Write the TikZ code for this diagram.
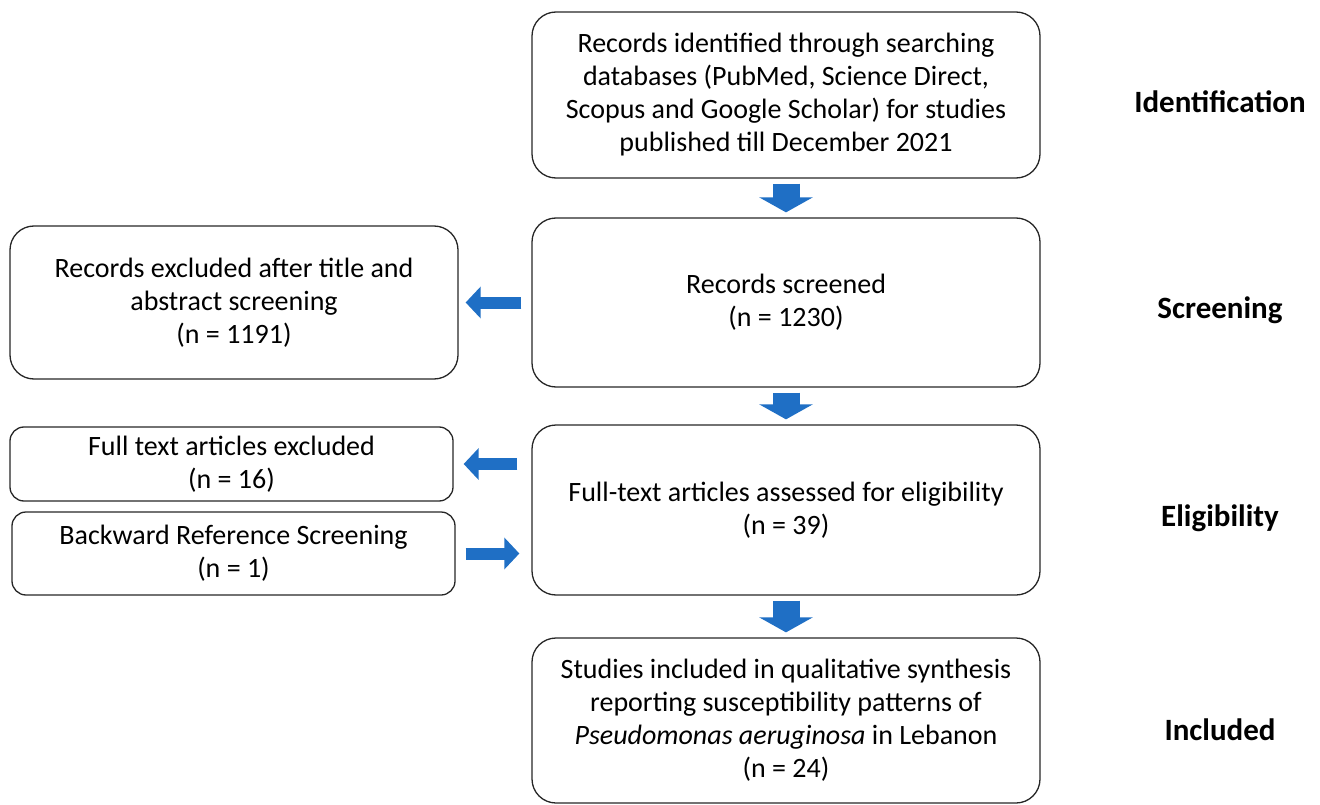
\documentclass[tikz,border=0pt]{standalone}
\usepackage{fontspec}
\setmainfont{Carlito}
\usetikzlibrary{arrows.meta}

\definecolor{arrblue}{HTML}{1F6FC5}

\tikzset{
  box/.style={draw=black!85, line width=1.3pt, rounded corners=24pt, align=center,
    font=\fontsize{28}{33}\selectfont, inner sep=0pt},
  smallbox/.style={box, rounded corners=14pt},
  phase/.style={font=\bfseries\fontsize{31}{34}\selectfont},
  downarr/.style={draw=arrblue, line width=27pt,
    -{Triangle[length=15pt,width=53pt]}, shorten <=5pt, shorten >=5pt},
  sidearr/.style={draw=arrblue, line width=12pt,
    -{Triangle[length=15pt,width=31pt]}}
}

\begin{document}
\begin{tikzpicture}[x=1pt,y=-1pt]
\useasboundingbox (0,0) rectangle (1320,805);
% main column
\node[box, minimum width=508pt, minimum height=166pt] (ident) at (786,95)
  {Records identified through searching\\databases (PubMed, Science Direct,\\Scopus and Google Scholar) for studies\\published till December 2021};
\node[box, minimum width=508pt, minimum height=169pt] (screen) at (786,302.5)
  {Records screened\\(n = 1230)};
\node[box, minimum width=508pt, minimum height=170pt] (assess) at (786,510)
  {Full-text articles assessed for eligibility\\(n = 39)};
\node[box, minimum width=508pt, minimum height=165pt] (incl) at (786,720.5)
  {Studies included in qualitative synthesis\\reporting susceptibility patterns of\\\textit{Pseudomonas aeruginosa} in Lebanon\\(n = 24)};
% side boxes
\node[box, minimum width=448pt, minimum height=153pt] (excl) at (234,302.5)
  {Records excluded after title and\\abstract screening\\(n = 1191)};
\node[smallbox, minimum width=443pt, minimum height=74pt] (ftex) at (231.5,464)
  {Full text articles excluded\\(n = 16)};
\node[smallbox, minimum width=443pt, minimum height=83pt] (back) at (233.5,553.5)
  {Backward Reference Screening\\(n = 1)};
% phase labels
\node[phase] (lident) at (1220,102) {Identification};
\node[phase] (lscreen) at (1220,310) {Screening};
\node[phase] (lelig) at (1220,518) {Eligibility};
\node[phase] (lincl) at (1220,730) {Included};
% block arrows
\draw[downarr] (ident) -- (screen);
\draw[downarr] (screen) -- (assess);
\draw[downarr] (assess) -- (incl);
\draw[sidearr, shorten <=10pt, shorten >=7pt] (screen.west) -- (excl.east);
\draw[sidearr, shorten <=14pt, shorten >=10pt] (assess.west |- ftex.east) -- (ftex.east);
\draw[sidearr, shorten <=10pt, shorten >=12pt] (back.east) -- (assess.west |- back.east);
\end{tikzpicture}
\end{document}
